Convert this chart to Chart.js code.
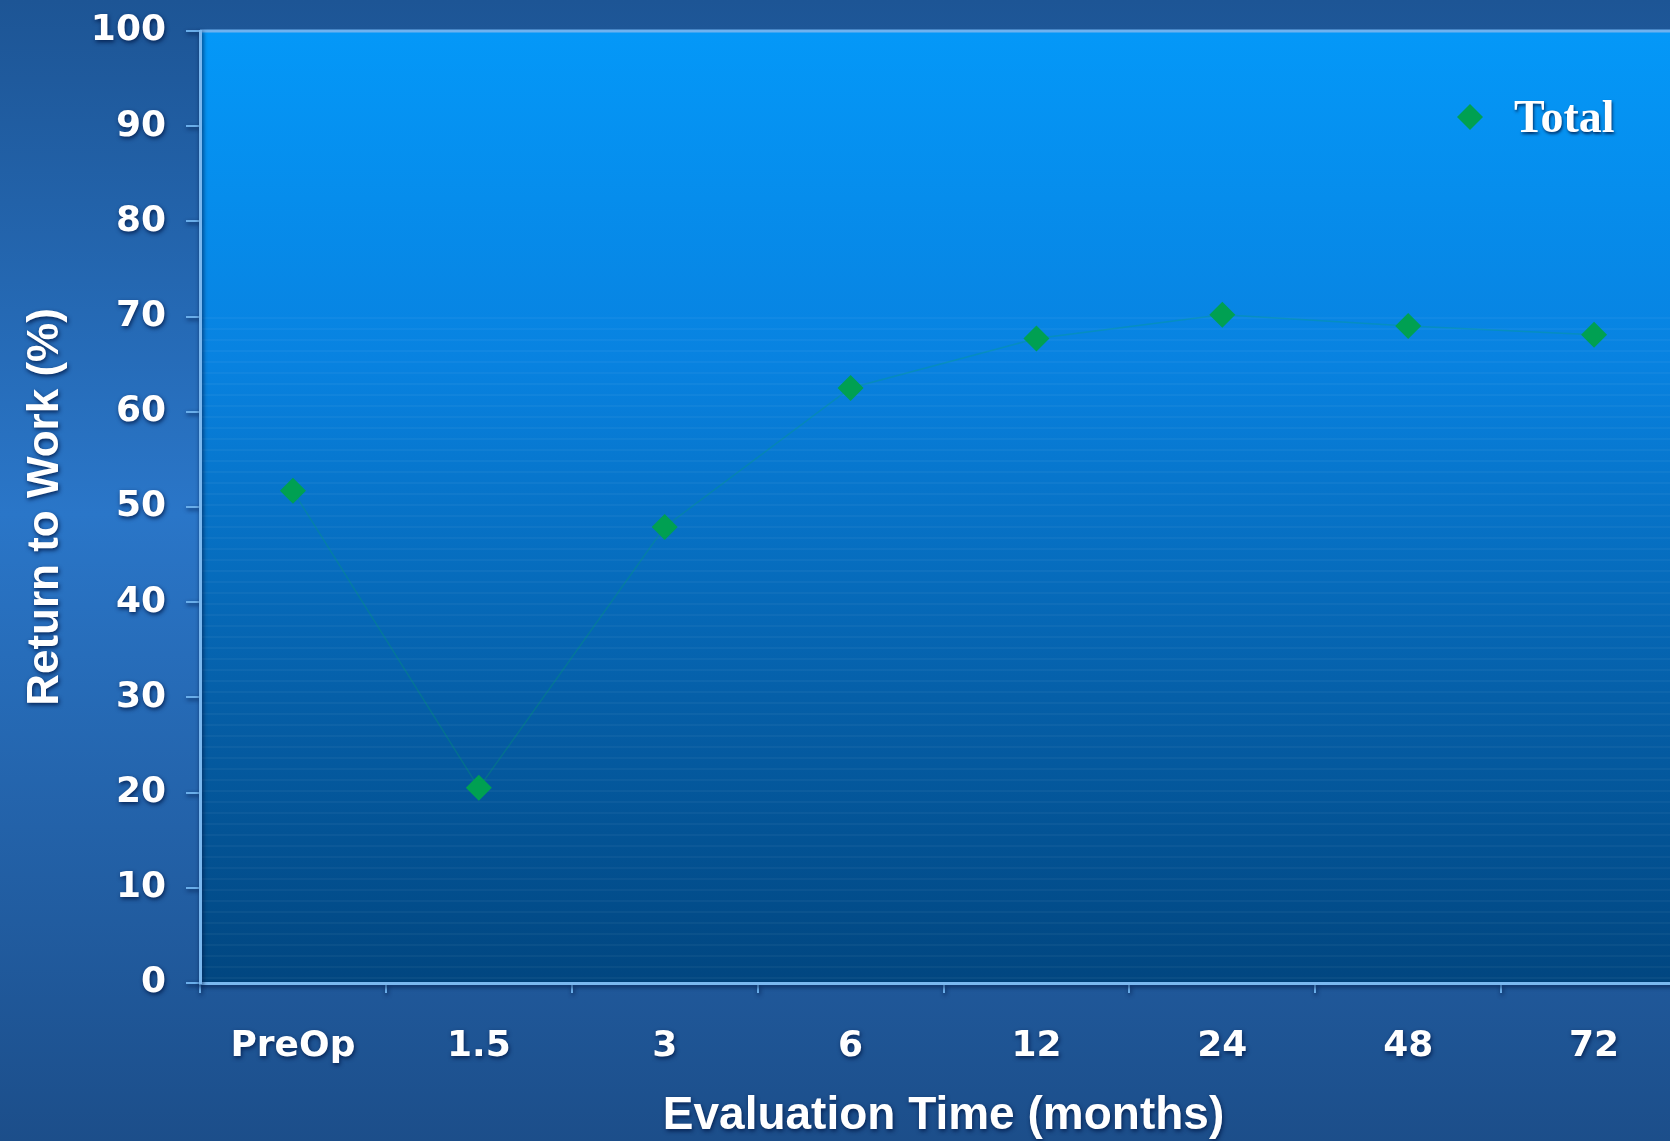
<!DOCTYPE html>
<html>
<head>
<meta charset="utf-8">
<script src="https://cdn.jsdelivr.net/npm/chart.js@4.4.1/dist/chart.umd.min.js"></script>
<style>
html, body { margin: 0; padding: 0; overflow: hidden; background: #1e5596; }
canvas { display: block; }
</style>
</head>
<body>
<canvas id="rtw-chart" width="1700" height="1141"></canvas>
<script>
const labels = ['PreOp', '1.5', '3', '6', '12', '24', '48', '72'];
const totalValues = [51.7, 20.5, 47.9, 62.5, 67.7, 70.2, 69.0, 68.1];
const yMin = 0;
const yMax = 100;
const yStep = 10;

const sans = '"Liberation Sans", Arial, sans-serif';
const wide = '"DejaVu Sans", Verdana, sans-serif';

// background: outer slide gradient + plot panel gradient with faint banding
const backdrop = {
    id: 'backdrop',
    beforeDraw(chart) {
        const { ctx, chartArea: a, width, height } = chart;
        ctx.save();
        let g = ctx.createLinearGradient(0, 0, 0, height);
        g.addColorStop(0, '#1d5595');
        g.addColorStop(0.45, '#2a76c8');
        g.addColorStop(1, '#1c4e8a');
        ctx.fillStyle = g;
        ctx.fillRect(0, 0, width, height);

        g = ctx.createLinearGradient(0, a.top, 0, a.bottom);
        g.addColorStop(0, '#0498f8');
        g.addColorStop(0.35, '#0882e0');
        g.addColorStop(0.7, '#055fa8');
        g.addColorStop(1, '#014680');
        ctx.fillStyle = g;
        ctx.fillRect(a.left, a.top, a.right - a.left, a.bottom - a.top);

        ctx.fillStyle = 'rgba(255,255,255,0.04)';
        for (let y = a.top + (a.bottom - a.top) * 0.3; y < a.bottom - 4; y += 11) {
            ctx.fillRect(a.left, Math.round(y), a.right - a.left, 2);
        }

        ctx.strokeStyle = '#6fb2ef';
        ctx.lineWidth = 3;
        ctx.beginPath();
        ctx.moveTo(a.left, a.top);
        ctx.lineTo(a.right, a.top);
        ctx.stroke();
        ctx.restore();

        // dark shadow behind the axis texts
        ctx.shadowColor = 'rgba(0,25,70,0.85)';
        ctx.shadowBlur = 4;
        ctx.shadowOffsetX = 1;
        ctx.shadowOffsetY = 2;
    },
    beforeDatasetsDraw(chart) {
        const ctx = chart.ctx;
        ctx.shadowColor = 'transparent';
        ctx.shadowBlur = 0;
        ctx.shadowOffsetX = 0;
        ctx.shadowOffsetY = 0;
    }
};

// legend drawn inside the plot, top right
const legendTag = {
    id: 'legendTag',
    afterDatasetsDraw(chart) {
        const ctx = chart.ctx;
        const ds = chart.data.datasets[0];
        ctx.save();
        ctx.fillStyle = ds.pointBackgroundColor;
        Chart.helpers.drawPoint(ctx, { pointStyle: 'rectRot', radius: 13, borderWidth: 0 }, 1470, 117);
        ctx.shadowColor = 'rgba(0,25,70,0.8)';
        ctx.shadowBlur = 3;
        ctx.shadowOffsetX = 1;
        ctx.shadowOffsetY = 2;
        ctx.fillStyle = '#ffffff';
        ctx.font = 'bold 46px "Liberation Serif", "Times New Roman", serif';
        ctx.textBaseline = 'middle';
        ctx.fillText(ds.label, 1514, 120);
        ctx.restore();
    }
};

const ctx = document.getElementById('rtw-chart').getContext('2d');
const chart = new Chart(ctx, {
    type: 'line',
    data: {
        labels: labels,
        datasets: [{
            label: 'Total',
            data: totalValues,
            borderColor: 'rgba(0,170,90,0.25)',
            borderWidth: 1.5,
            tension: 0,
            pointStyle: 'rectRot',
            pointRadius: 13,
            pointHoverRadius: 13,
            pointBackgroundColor: '#00a052',
            pointBorderWidth: 0
        }]
    },
    options: {
        responsive: false,
        animation: false,
        layout: { padding: { top: 31, right: 1, left: 0, bottom: 0 } },
        plugins: {
            legend: { display: false },
            tooltip: { enabled: false }
        },
        scales: {
            x: {
                type: 'category',
                offset: true,
                grid: {
                    offset: true,
                    drawOnChartArea: false,
                    tickLength: 10,
                    color: '#6aaeea',
                    lineWidth: 2
                },
                border: { color: '#7ab8f0', width: 3 },
                ticks: {
                    color: '#ffffff',
                    font: { family: wide, size: 36, weight: 'bold' },
                    padding: 32,
                    maxRotation: 0,
                    autoSkip: false
                },
                title: {
                    display: true,
                    text: 'Evaluation Time (months)',
                    color: '#ffffff',
                    font: { family: sans, size: 46, weight: 'bold' },
                    padding: { top: 0, bottom: -3 }
                },
                afterFit(scale) { scale.height = 158; }
            },
            y: {
                min: yMin,
                max: yMax,
                grid: {
                    drawOnChartArea: false,
                    tickLength: 14,
                    color: '#6aaeea',
                    lineWidth: 2
                },
                border: { color: '#7ab8f0', width: 3 },
                ticks: {
                    stepSize: yStep,
                    color: '#ffffff',
                    font: { family: wide, size: 36, weight: 'bold' },
                    padding: 20
                },
                title: {
                    display: true,
                    text: 'Return to Work (%)',
                    color: '#ffffff',
                    font: { family: sans, size: 44, weight: 'bold' },
                    padding: { top: 19, bottom: 0 }
                },
                afterFit(scale) {
                    scale.width = 200;
                    scale.paddingTop = 0;
                    scale.paddingBottom = 0;
                }
            }
        }
    },
    plugins: [backdrop, legendTag]
});
</script>
</body>
</html>
